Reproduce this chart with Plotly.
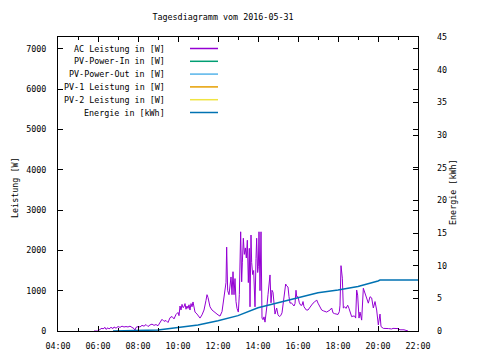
import plotly.graph_objects as go

DATE = "2016-05-31"
TITLE = "Tagesdiagramm vom 2016-05-31"

ac_times = ["05:48", "06:00", "06:06", "06:12", "06:15", "06:21", "06:24", "06:30", "06:33", "06:39",
            "06:45", "06:48", "06:54", "07:00", "07:06", "07:12", "07:18", "07:24", "07:30", "07:36",
            "07:42", "07:48", "07:51", "07:54", "08:00", "08:06", "08:12", "08:18", "08:24", "08:30",
            "08:36", "08:42", "08:48", "08:54", "09:00", "09:06", "09:12", "09:18", "09:24", "09:30",
            "09:36", "09:42", "09:48", "09:54", "10:00", "10:03", "10:06", "10:09", "10:12", "10:15",
            "10:18", "10:21", "10:24", "10:27", "10:30", "10:33", "10:36", "10:39", "10:42", "10:45",
            "10:48", "10:51", "10:57", "11:03", "11:06", "11:12", "11:18", "11:24", "11:27", "11:30",
            "11:33", "11:36", "11:42", "11:48", "11:54", "12:00", "12:06", "12:12", "12:15", "12:18",
            "12:21", "12:24", "12:26", "12:29", "12:33", "12:36", "12:39", "12:42", "12:45", "12:48",
            "12:51", "12:54", "12:57", "13:01", "13:04", "13:08", "13:11", "13:13", "13:16", "13:19",
            "13:22", "13:25", "13:28", "13:31", "13:34", "13:36", "13:39", "13:41", "13:44", "13:47",
            "13:51", "13:54", "13:56", "13:59", "14:01", "14:03", "14:06", "14:09", "14:12", "14:15",
            "14:18", "14:21", "14:24", "14:27", "14:30", "14:33", "14:36", "14:39", "14:42", "14:45",
            "14:48", "14:51", "14:56", "15:00", "15:04", "15:08", "15:12", "15:16", "15:20", "15:23",
            "15:26", "15:30", "15:33", "15:36", "15:40", "15:45", "15:48", "15:51", "15:54", "15:56",
            "16:00", "16:04", "16:08", "16:12", "16:15", "16:18", "16:21", "16:25", "16:30", "16:36",
            "16:40", "16:45", "16:50", "16:56", "17:00", "17:05", "17:11", "17:16", "17:21", "17:26",
            "17:30", "17:36", "17:41", "17:45", "17:50", "17:55", "18:00", "18:04", "18:06", "18:09",
            "18:13", "18:16", "18:20", "18:24", "18:29", "18:33", "18:36", "18:41", "18:45", "18:50",
            "18:53", "18:56", "18:59", "19:03", "19:06", "19:11", "19:16", "19:19", "19:23", "19:26",
            "19:31", "19:36", "19:41", "19:46", "19:51", "19:56", "20:01", "20:06", "20:09", "20:16",
            "20:24", "20:32", "20:41", "20:45", "21:00", "21:06", "21:18", "21:27", "21:30"]
ac_watts = [0, 0, 40, 70, 50, 90, 40, 80, 50, 90,
            60, 100, 70, 110, 90, 120, 100, 110, 100, 120,
            90, 60, 20, 90, 110, 100, 140, 120, 160, 110,
            150, 170, 140, 160, 130, 200, 290, 240, 260, 210,
            330, 360, 300, 410, 460, 380, 620, 520, 660, 580,
            600, 680, 540, 620, 560, 650, 520, 680, 600, 720,
            520, 470, 420, 340, 320, 400, 520, 760, 900, 830,
            680, 600, 520, 470, 440, 400, 370, 480, 650, 800,
            980, 1200, 2080, 1000, 900, 1100, 1340, 900, 1470, 900,
            1300, 730, 560, 470, 900, 2460, 1220, 1690, 2300, 1900,
            2060, 1810, 2250, 1200, 2050, 600, 2380, 1700, 1400, 1500,
            600, 1800, 2300, 1450, 1600, 2460, 1000, 2460, 320, 280,
            350, 220, 400, 640, 900, 1100, 1390, 700, 1010, 960,
            570, 420, 570, 400, 360, 380, 450, 770, 950, 1165,
            1120, 1090, 850, 690, 700, 640, 620, 680, 1010, 850,
            850, 700, 640, 640, 730, 600, 570, 520, 520, 600,
            640, 690, 720, 770, 690, 600, 520, 500, 480, 470,
            490, 520, 570, 450, 430, 410, 410, 480, 640, 1620,
            1310, 570, 600, 560, 640, 560, 480, 355, 370, 370,
            320, 1015, 890, 320, 470, 270, 1060, 980, 900, 850,
            690, 850, 820, 570, 730, 520, 150, 420, 110, 65,
            70, 60, 50, 65, 60, 30, 30, 10, 0]

energy_times = ["06:45", "08:30", "09:00", "10:00", "10:36", "11:00", "12:00", "13:00", "14:00",
                "15:00", "16:00", "17:00", "18:00", "19:00", "20:00", "20:06", "22:00"]
energy_kwh = [0.0, 0.05, 0.15, 0.55, 0.8, 0.92, 1.58, 2.35, 3.55,
              4.33, 5.1, 5.87, 6.28, 6.8, 7.65, 7.8, 7.8]

legend_names = ["AC Leistung in [W]", "PV-Power-In in [W]", "PV-Power-Out in [W]",
                "PV-1 Leistung in [W]", "PV-2 Leistung in [W]", "Energie in [kWh]"]
legend_colors = ["#9400d3", "#009e73", "#56b4e9", "#e69f00", "#f0e442", "#0072b2"]

y_left_ticks = [0, 1000, 2000, 3000, 4000, 5000, 6000, 7000]
y_right_ticks = [0, 5, 10, 15, 20, 25, 30, 35, 40, 45]
x_range = ["04:00", "22:00"]

FONT = "DejaVu Sans Mono"
FS = 8.4

# The page body has an 8px margin, so figure coordinates = page coordinates - 8
OFF = 8
W, H = 480 - OFF, 360 - OFF
# Plot area in page pixels: left 58, right 418, top 37, bottom 331
L, R, T, B = 58 - OFF, 418 - OFF, 37 - OFF, 331 - OFF


def stamp(t):
    return f"{DATE} {t}"


def px_x(px):
    return (px - OFF - L) / (R - L)


def px_y(py):
    return (B - (py - OFF)) / (B - T)


fig = go.Figure()
fig.add_trace(go.Scatter(
    x=[stamp(t) for t in ac_times], y=ac_watts, mode="lines",
    line=dict(color=legend_colors[0], width=1), name=legend_names[0], showlegend=False))
fig.add_trace(go.Scatter(
    x=[stamp(t) for t in energy_times], y=energy_kwh, mode="lines", yaxis="y2",
    line=dict(color=legend_colors[5], width=1.5), name=legend_names[5], showlegend=False))

annotations = []
shapes = []
row0, step = 48.5, 12.8
for i, (name, col) in enumerate(zip(legend_names, legend_colors)):
    yy = px_y(row0 + i * step)
    annotations.append(dict(x=px_x(167), y=yy, xref="paper", yref="paper", text=name,
                            showarrow=False, xanchor="right", yanchor="middle",
                            font=dict(family=FONT, size=FS, color="black")))
    shapes.append(dict(type="line", xref="paper", yref="paper", x0=px_x(190), x1=px_x(218),
                       y0=yy, y1=yy, line=dict(color=col, width=1.5)))

annotations.append(dict(x=px_x(8), y=px_y(188), xref="paper", yref="paper", text="Leistung [W]",
                        showarrow=False, textangle=-90, xanchor="left", yanchor="middle",
                        font=dict(family=FONT, size=FS, color="black")))
annotations.append(dict(x=px_x(453), y=px_y(192), xref="paper", yref="paper", text="Energie [kWh]",
                        showarrow=False, textangle=-90, xanchor="center", yanchor="middle",
                        font=dict(family=FONT, size=FS, color="black")))

fig.update_layout(
    width=W, height=H,
    margin=dict(l=L, r=W - R, t=T, b=H - B, autoexpand=False),
    paper_bgcolor="white", plot_bgcolor="white",
    font=dict(family=FONT, size=FS, color="black"),
    title=dict(text=TITLE, x=(223 - OFF) / W, xanchor="center", xref="container",
               y=1 - (17 - OFF) / H, yanchor="middle", yref="container",
               font=dict(family=FONT, size=FS, color="black")),
    annotations=annotations, shapes=shapes,
    showlegend=False,
    xaxis=dict(type="date", range=[stamp(x_range[0]), stamp(x_range[1])],
               tickformat="%H:%M", dtick=7200000, tick0=stamp(x_range[0]),
               ticks="inside", ticklen=5, tickcolor="black", tickwidth=1,
               showline=True, linecolor="black", linewidth=1, mirror="ticks",
               showgrid=False, zeroline=False, ticklabelstandoff=7,
               minor=dict(dtick=3600000, ticks="inside", ticklen=3, tickcolor="black", showgrid=False)),
    yaxis=dict(range=[0, 7290], tickvals=y_left_ticks, ticks="inside", ticklen=5,
               tickcolor="black", showline=True, linecolor="black", linewidth=1, mirror="ticks",
               showgrid=False, zeroline=False, ticklabelstandoff=9),
    yaxis2=dict(range=[0, 45], tickvals=y_right_ticks, overlaying="y", side="right",
                ticks="inside", ticklen=5, tickcolor="black", showline=False,
                showgrid=False, zeroline=False, ticklabelstandoff=18),
)

fig.write_html("out.html")
